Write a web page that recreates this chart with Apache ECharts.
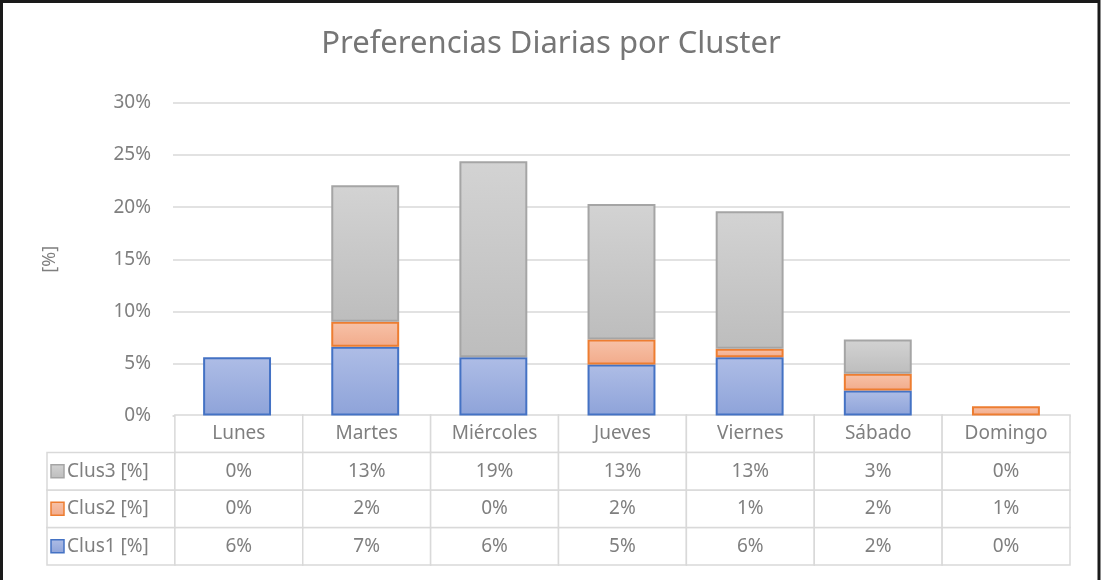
<!DOCTYPE html>
<html>
<head>
<meta charset="utf-8">
<script src="https://cdn.jsdelivr.net/npm/echarts@6/dist/echarts.min.js"></script>
<style>
  html, body { margin: 0; padding: 0; background: #fff; }
  #chart { width: 1102px; height: 580px; }
</style>
</head>
<body>
<div id="chart"></div>
<script>
const days = ["Lunes", "Martes", "Miércoles", "Jueves", "Viernes", "Sábado", "Domingo"];
const clus1 = [5.6, 6.6, 5.6, 4.9, 5.6, 2.4, 0];
const clus2 = [0, 2.4, 0, 2.4, 0.8, 1.6, 0.9];
const clus3 = [0, 13.1, 18.8, 13.0, 13.2, 3.3, 0];
const seriesNames = ["Clus1 [%]", "Clus2 [%]", "Clus3 [%]"];
const yTicks = [0, 5, 10, 15, 20, 25, 30];

const FONT = "Noto Sans";
const TEXT_COLOR = "#7f7f7f";
const LINE_COLOR = "#d9d9d9";

// fill top/bottom + border per cluster (Excel style)
const palette = [
  { top: "#aebde6", bottom: "#8ea3d9", border: "#4472c4" },
  { top: "#f7c2a8", bottom: "#f2ab8b", border: "#ed7d31" },
  { top: "#d3d3d3", bottom: "#bdbdbd", border: "#a5a5a5" },
];
const allValues = [clus1, clus2, clus3];

function gradient(p) {
  return new echarts.graphic.LinearGradient(0, 0, 0, 1, [
    { offset: 0, color: p.top },
    { offset: 1, color: p.bottom },
  ]);
}

// table cells: col 0 = legend column, row 3 = header row
const tableCells = [];
for (let c = 1; c <= days.length; c++) tableCells.push([c, 3]);
for (let r = 0; r < 3; r++) {
  for (let c = 0; c <= days.length; c++) tableCells.push([c, r]);
}

function renderCell(params, api) {
  const col = api.value(0);
  const row = api.value(1);
  const pt = api.coord([col, row]);
  const size = api.size([1, 1]);
  const x0 = pt[0] - size[0] / 2;
  const y0 = pt[1] - size[1] / 2;
  const children = [
    {
      type: "rect",
      shape: { x: x0, y: y0, width: size[0], height: size[1] },
      style: { fill: "#fff", stroke: LINE_COLOR, lineWidth: 1.5 },
    },
  ];
  const textStyle = { fill: TEXT_COLOR, fontSize: 19, fontFamily: FONT, verticalAlign: "middle" };
  if (row === 3) {
    children.push({ type: "text", style: Object.assign({ text: days[col - 1], x: pt[0], y: pt[1], align: "center" }, textStyle) });
  } else if (col === 0) {
    const p = palette[row];
    children.push({
      type: "rect",
      shape: { x: x0 + 4, y: pt[1] - 6.5, width: 13, height: 13 },
      style: { fill: gradient(p), stroke: p.border, lineWidth: 1.5 },
    });
    children.push({ type: "text", style: Object.assign({ text: seriesNames[row], x: x0 + 20, y: pt[1], align: "left" }, textStyle) });
  } else {
    const v = allValues[row][col - 1];
    children.push({ type: "text", style: Object.assign({ text: Math.round(v) + "%", x: pt[0], y: pt[1], align: "center" }, textStyle) });
  }
  return { type: "group", children };
}

const chart = echarts.init(document.getElementById("chart"), null, { renderer: "canvas" });

const barSeries = allValues.map((vals, i) => ({
  name: seriesNames[i],
  type: "bar",
  stack: "total",
  barCategoryGap: "47%",
  xAxisIndex: 0,
  yAxisIndex: 0,
  data: vals.map((v) => (v === 0 ? null : v)),
  itemStyle: { color: gradient(palette[i]), borderColor: palette[i].border, borderWidth: 2 },
  emphasis: { disabled: true },
}));

chart.setOption({
  animation: false,
  textStyle: { fontFamily: FONT },
  title: {
    text: "Preferencias Diarias por Cluster",
    left: "center",
    top: 29,
    padding: 0,
    textStyle: { fontSize: 31, fontWeight: "normal", color: "#767676", fontFamily: FONT },
  },
  grid: [
    { left: 173, right: 32, top: 103, bottom: 164.5 },
    { left: 47, right: 32, top: 415, bottom: 15 },
  ],
  xAxis: [
    {
      gridIndex: 0,
      type: "category",
      data: days,
      axisLine: { lineStyle: { color: LINE_COLOR, width: 1.5 } },
      axisTick: { show: false },
      axisLabel: { show: false },
    },
    {
      gridIndex: 1,
      type: "category",
      data: [""].concat(days),
      show: false,
    },
  ],
  yAxis: [
    {
      gridIndex: 0,
      type: "value",
      min: yTicks[0],
      max: yTicks[yTicks.length - 1],
      interval: 5,
      name: "[%]",
      nameLocation: "middle",
      nameGap: 114,
      nameTextStyle: { color: TEXT_COLOR, fontSize: 18, fontFamily: FONT },
      axisLabel: { formatter: "{value}%", color: TEXT_COLOR, fontSize: 19, margin: 22, fontFamily: FONT },
      splitLine: { lineStyle: { color: LINE_COLOR, width: 1.5 } },
      axisLine: { show: false },
      axisTick: { show: false },
    },
    {
      gridIndex: 1,
      type: "category",
      data: seriesNames.concat(["header"]),
      show: false,
    },
  ],
  series: barSeries.concat([
    {
      type: "custom",
      xAxisIndex: 1,
      yAxisIndex: 1,
      silent: true,
      encode: { x: 0, y: 1 },
      data: tableCells,
      renderItem: renderCell,
    },
  ]),
  graphic: [
    {
      type: "rect",
      shape: { x: 1.5, y: 1.5, width: 1097.5, height: 620 },
      style: { fill: null, stroke: "#1a1a1a", lineWidth: 3 },
      silent: true,
    },
  ],
});
</script>
</body>
</html>
